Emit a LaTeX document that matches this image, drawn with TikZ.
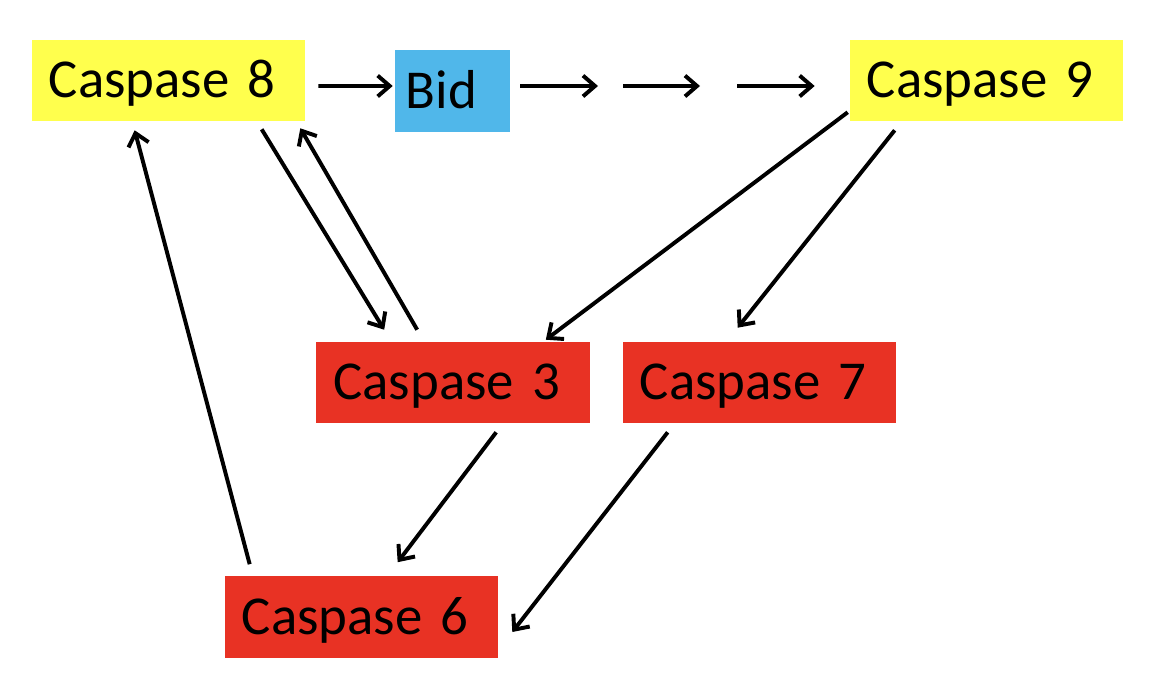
\documentclass[tikz,border=0pt]{standalone}
\usepackage{fontspec}
\setmainfont{Carlito}
\usetikzlibrary{arrows.meta}
\definecolor{casyellow}{RGB}{255,255,77}
\definecolor{casblue}{RGB}{80,183,234}
\definecolor{casred}{RGB}{232,50,36}
\begin{document}
\begin{tikzpicture}[
    x=0.025cm,y=-0.025cm,
    enzyme/.style={inner xsep=0.425cm,inner ysep=0pt,align=left,
                   minimum height=2.025cm,text width=5.975cm,
                   text height=0.9cm,text depth=0.05cm,
                   font=\fontsize{39}{45}\selectfont},
    active/.style={enzyme,fill=casyellow},
    effector/.style={enzyme,fill=casred},
    link/.style={-{Straight Barb[length=3mm,width=5.2mm]},line width=2.8pt,draw=black}
  ]
    \useasboundingbox (0,0) rectangle (1160,684);

    \node[active] (c8) at (168.5,80.5) {Caspase 8};
    \node[fill=casblue,inner xsep=0.275cm,inner ysep=0pt,align=left,
          minimum height=2.05cm,text width=2.325cm,
          text height=0.9cm,text depth=0.05cm,
          font=\fontsize{39}{45}\selectfont] (bid) at (452.5,91) {Bid};
    \node[active] (c9) at (986.5,80.5) {Caspase 9};
    \node[effector] (c3) at (453,382.5) {Caspase 3};
    \node[effector] (c7) at (759.5,382.5) {Caspase 7};
    \node[effector] (c6) at (361.5,617) {Caspase 6};

    \coordinate (s1) at (598,86);
    \coordinate (s2) at (623,86);
    \coordinate (s3) at (700,86);
    \coordinate (s4) at (737,86);

    \draw[link] ([shift={(13,5.5)}]c8.east) -- ([shift={(-2,-5)}]bid.west);
    \draw[link] ([shift={(10,-5)}]bid.east) -- (s1);
    \draw[link] (s2) -- (s3);
    \draw[link] (s4) -- ([shift={(-35,5.5)}]c9.west);

    \draw[link] ([shift={(230,8)}]c8.south west) -- ([shift={(68,-12)}]c3.north west);
    \draw[link] ([shift={(101,-12)}]c3.north west) -- ([shift={(-5,7)}]c8.south east);
    \draw[link] ([shift={(-2,-9)}]c9.south west) -- ([shift={(-44,-2)}]c3.north east);
    \draw[link] ([shift={(45,9)}]c9.south west) -- ([shift={(115,-14)}]c7.north west);
    \draw[link] ([shift={(180,9)}]c3.south west) -- ([shift={(173,-14)}]c6.north west);
    \draw[link] ([shift={(45,9)}]c7.south west) -- ([shift={(14,15)}]c6.east);
    \draw[link] ([shift={(25,-12)}]c6.north west) -- ([shift={(103,9)}]c8.south west);
  \end{tikzpicture}
\end{document}
